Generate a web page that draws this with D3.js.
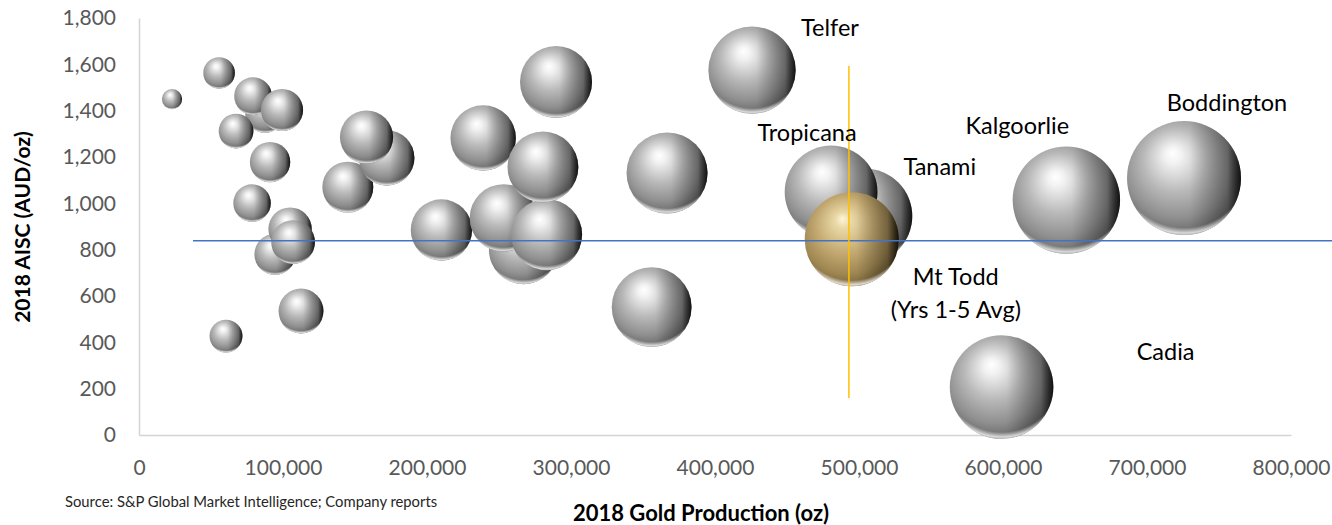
<!DOCTYPE html>
<html>
<head>
<meta charset="utf-8">
<script src="https://cdn.jsdelivr.net/npm/d3@7"></script>
<style>
  body { margin: 0; background: #fff; }
  text { font-family: Lato, "Open Sans", sans-serif; }
</style>
</head>
<body>
<svg id="chart"></svg>
<script>
// mines, back to front (later ones are drawn on top)
var mineNames = ["", "", "", "", "", "", "", "", "", "", "", "", "", "", "", "",
  "", "", "", "", "", "", "", "", "",
  "Telfer", "Tanami", "Tropicana", "Kalgoorlie", "Boddington", "Cadia", "Mt Todd|(Yrs 1-5 Avg)"];
// 2018 gold production (oz) - also the bubble size
var production = [22900, 55600, 87500, 79200, 99300, 67400, 91000, 78500, 94400, 104900, 107000, 112500, 60400,
  145000, 172000, 158000, 210000, 239000, 267000, 253000, 283000, 280500, 289600, 356000, 366700,
  425700, 504000, 480600, 644000, 725700, 599000, 495000];
// 2018 AISC (AUD/oz)
var aisc = [1450, 1563, 1390, 1463, 1403, 1312, 1178, 1001, 780, 889, 833, 535, 427,
  1070, 1196, 1286, 885, 1282, 800, 937, 865, 1157, 1524, 552, 1131,
  1575, 945, 1049, 1014, 1109, 207, 845];
var highlight = "Mt Todd|(Yrs 1-5 Avg)";

var xTicks = [0, 100000, 200000, 300000, 400000, 500000, 600000, 700000, 800000];
var yTicks = [0, 200, 400, 600, 800, 1000, 1200, 1400, 1600, 1800];

// Mt Todd reference lines
var hLineAisc = 838, hLineFrom = 37500, hLineTo = 830000;
var vLineProd = 493000, vLineFrom = 160, vLineTo = 1593;

var width = 1332;
var height = 525;

var svg = d3.select("#chart")
  .attr("width", width)
  .attr("height", height);

var x = d3.scaleLinear()
  .domain([0, 800000])
  .range([139, 1291]);

var y = d3.scaleLinear()
  .domain([0, 1800])
  .range([435, 18]);

var r = d3.scaleSqrt()
  .domain([0, d3.max(production)])
  .range([0, 57]);

// sphere look
var defs = svg.append("defs");

function sphereGradient(id, stops) {
  var g = defs.append("radialGradient")
    .attr("id", id)
    .attr("cx", "45%").attr("cy", "42%").attr("r", "62%")
    .attr("fx", "40%").attr("fy", "28%");
  stops.forEach(function(s) {
    g.append("stop").attr("offset", s[0]).attr("stop-color", s[1]);
  });
}
sphereGradient("silver", [["0%", "#ffffff"], ["12%", "#f2f2f2"], ["45%", "#b9b9b9"], ["75%", "#8f8f8f"], ["100%", "#5e5e5e"]]);
sphereGradient("gold", [["0%", "#fff6d8"], ["14%", "#e9d8a6"], ["48%", "#c4aa72"], ["78%", "#9e8652"], ["100%", "#6f5b34"]]);

var shade = defs.append("linearGradient").attr("id", "shade")
  .attr("x1", "0%").attr("x2", "100%").attr("y1", "0%").attr("y2", "0%");
shade.append("stop").attr("offset", "55%").attr("stop-color", "#000").attr("stop-opacity", 0);
shade.append("stop").attr("offset", "88%").attr("stop-color", "#000").attr("stop-opacity", 0.3);
shade.append("stop").attr("offset", "100%").attr("stop-color", "#000").attr("stop-opacity", 0.85);

var rim = defs.append("radialGradient").attr("id", "rim")
  .attr("cx", "50%").attr("cy", "35%").attr("r", "68%");
rim.append("stop").attr("offset", "86%").attr("stop-color", "#fff").attr("stop-opacity", 0);
rim.append("stop").attr("offset", "93%").attr("stop-color", "#fff").attr("stop-opacity", 0.75);
rim.append("stop").attr("offset", "100%").attr("stop-color", "#fff").attr("stop-opacity", 0);

// axes
var yAxis = d3.axisLeft(y)
  .tickValues(yTicks)
  .tickSize(0)
  .tickPadding(23)
  .tickFormat(d3.format(","));

var xAxis = d3.axisBottom(x)
  .tickValues(xTicks)
  .tickSize(0)
  .tickPadding(25)
  .tickFormat(d3.format(","));

svg.append("g")
  .attr("transform", "translate(" + x(0) + ",0)")
  .call(yAxis)
  .call(function(g) {
    g.select(".domain").attr("stroke", "#d4d4d4").attr("stroke-width", 1.5);
    g.selectAll("text").attr("fill", "#595959").style("font-size", "21px");
  });

svg.append("g")
  .attr("transform", "translate(0," + y(0) + ")")
  .call(xAxis)
  .call(function(g) {
    g.select(".domain").attr("stroke", "#d4d4d4").attr("stroke-width", 1.5);
    g.selectAll("text").attr("fill", "#595959").style("font-size", "21px");
  });

// bubbles
var data = production.map(function(p, i) {
  return { name: mineNames[i], production: p, aisc: aisc[i] };
});

var bubbles = svg.append("g").selectAll(".bubble")
  .data(data)
  .enter().append("g")
  .attr("class", "bubble")
  .attr("transform", function(d) {
    return "translate(" + x(d.production) + "," + y(d.aisc) + ")";
  });

bubbles.append("circle")
  .attr("r", function(d) { return r(d.production); })
  .attr("fill", function(d) { return d.name === highlight ? "url(#gold)" : "url(#silver)"; });
bubbles.append("circle")
  .attr("r", function(d) { return r(d.production); })
  .attr("fill", "url(#shade)");
bubbles.append("circle")
  .attr("r", function(d) { return r(d.production); })
  .attr("fill", "url(#rim)");

// reference lines
svg.append("line")
  .attr("x1", x(hLineFrom)).attr("x2", x(hLineTo))
  .attr("y1", y(hLineAisc)).attr("y2", y(hLineAisc))
  .attr("stroke", "#4472c4").attr("stroke-width", 1.5);

svg.append("line")
  .attr("x1", x(vLineProd)).attr("x2", x(vLineProd))
  .attr("y1", y(vLineFrom)).attr("y2", y(vLineTo))
  .attr("stroke", "#ffc000").attr("stroke-width", 1.5);

// mine labels, offset from the bubble centre
var labelOffset = {
  "Telfer": [78, -42],
  "Tropicana": [-24, -59],
  "Tanami": [75, -49],
  "Kalgoorlie": [-49, -74],
  "Boddington": [43, -75],
  "Cadia": [164, -35],
  "Mt Todd|(Yrs 1-5 Avg)": [104, 38]
};

var labels = svg.append("g").selectAll(".label")
  .data(data.filter(function(d) { return d.name !== ""; }))
  .enter().append("text")
  .attr("class", "label")
  .attr("text-anchor", "middle")
  .attr("fill", "#000")
  .style("font-size", "23.5px")
  .attr("x", function(d) { return x(d.production) + labelOffset[d.name][0]; })
  .attr("y", function(d) { return y(d.aisc) + labelOffset[d.name][1]; });

labels.selectAll("tspan")
  .data(function(d) {
    return d.name.split("|").map(function(t) { return { text: t, x: x(d.production) + labelOffset[d.name][0] }; });
  })
  .enter().append("tspan")
  .attr("x", function(t) { return t.x; })
  .attr("dy", function(t, i) { return i === 0 ? "0.35em" : "1.4em"; })
  .text(function(t) { return t.text; });

// titles
svg.append("text")
  .attr("transform", "translate(23," + 227 + ") rotate(-90)")
  .attr("text-anchor", "middle")
  .attr("dy", "0.35em")
  .style("font-size", "21px")
  .style("font-weight", "bold")
  .text("2018 AISC (AUD/oz)");

svg.append("text")
  .attr("x", 701)
  .attr("y", 513)
  .attr("dy", "0.35em")
  .attr("text-anchor", "middle")
  .style("font-size", "22px")
  .style("font-weight", "bold")
  .text("2018 Gold Production (oz)");

svg.append("text")
  .attr("x", 65)
  .attr("y", 502)
  .attr("dy", "0.35em")
  .attr("fill", "#262626")
  .style("font-size", "14.8px")
  .text("Source: S&P Global Market Intelligence; Company reports");
</script>
</body>
</html>
